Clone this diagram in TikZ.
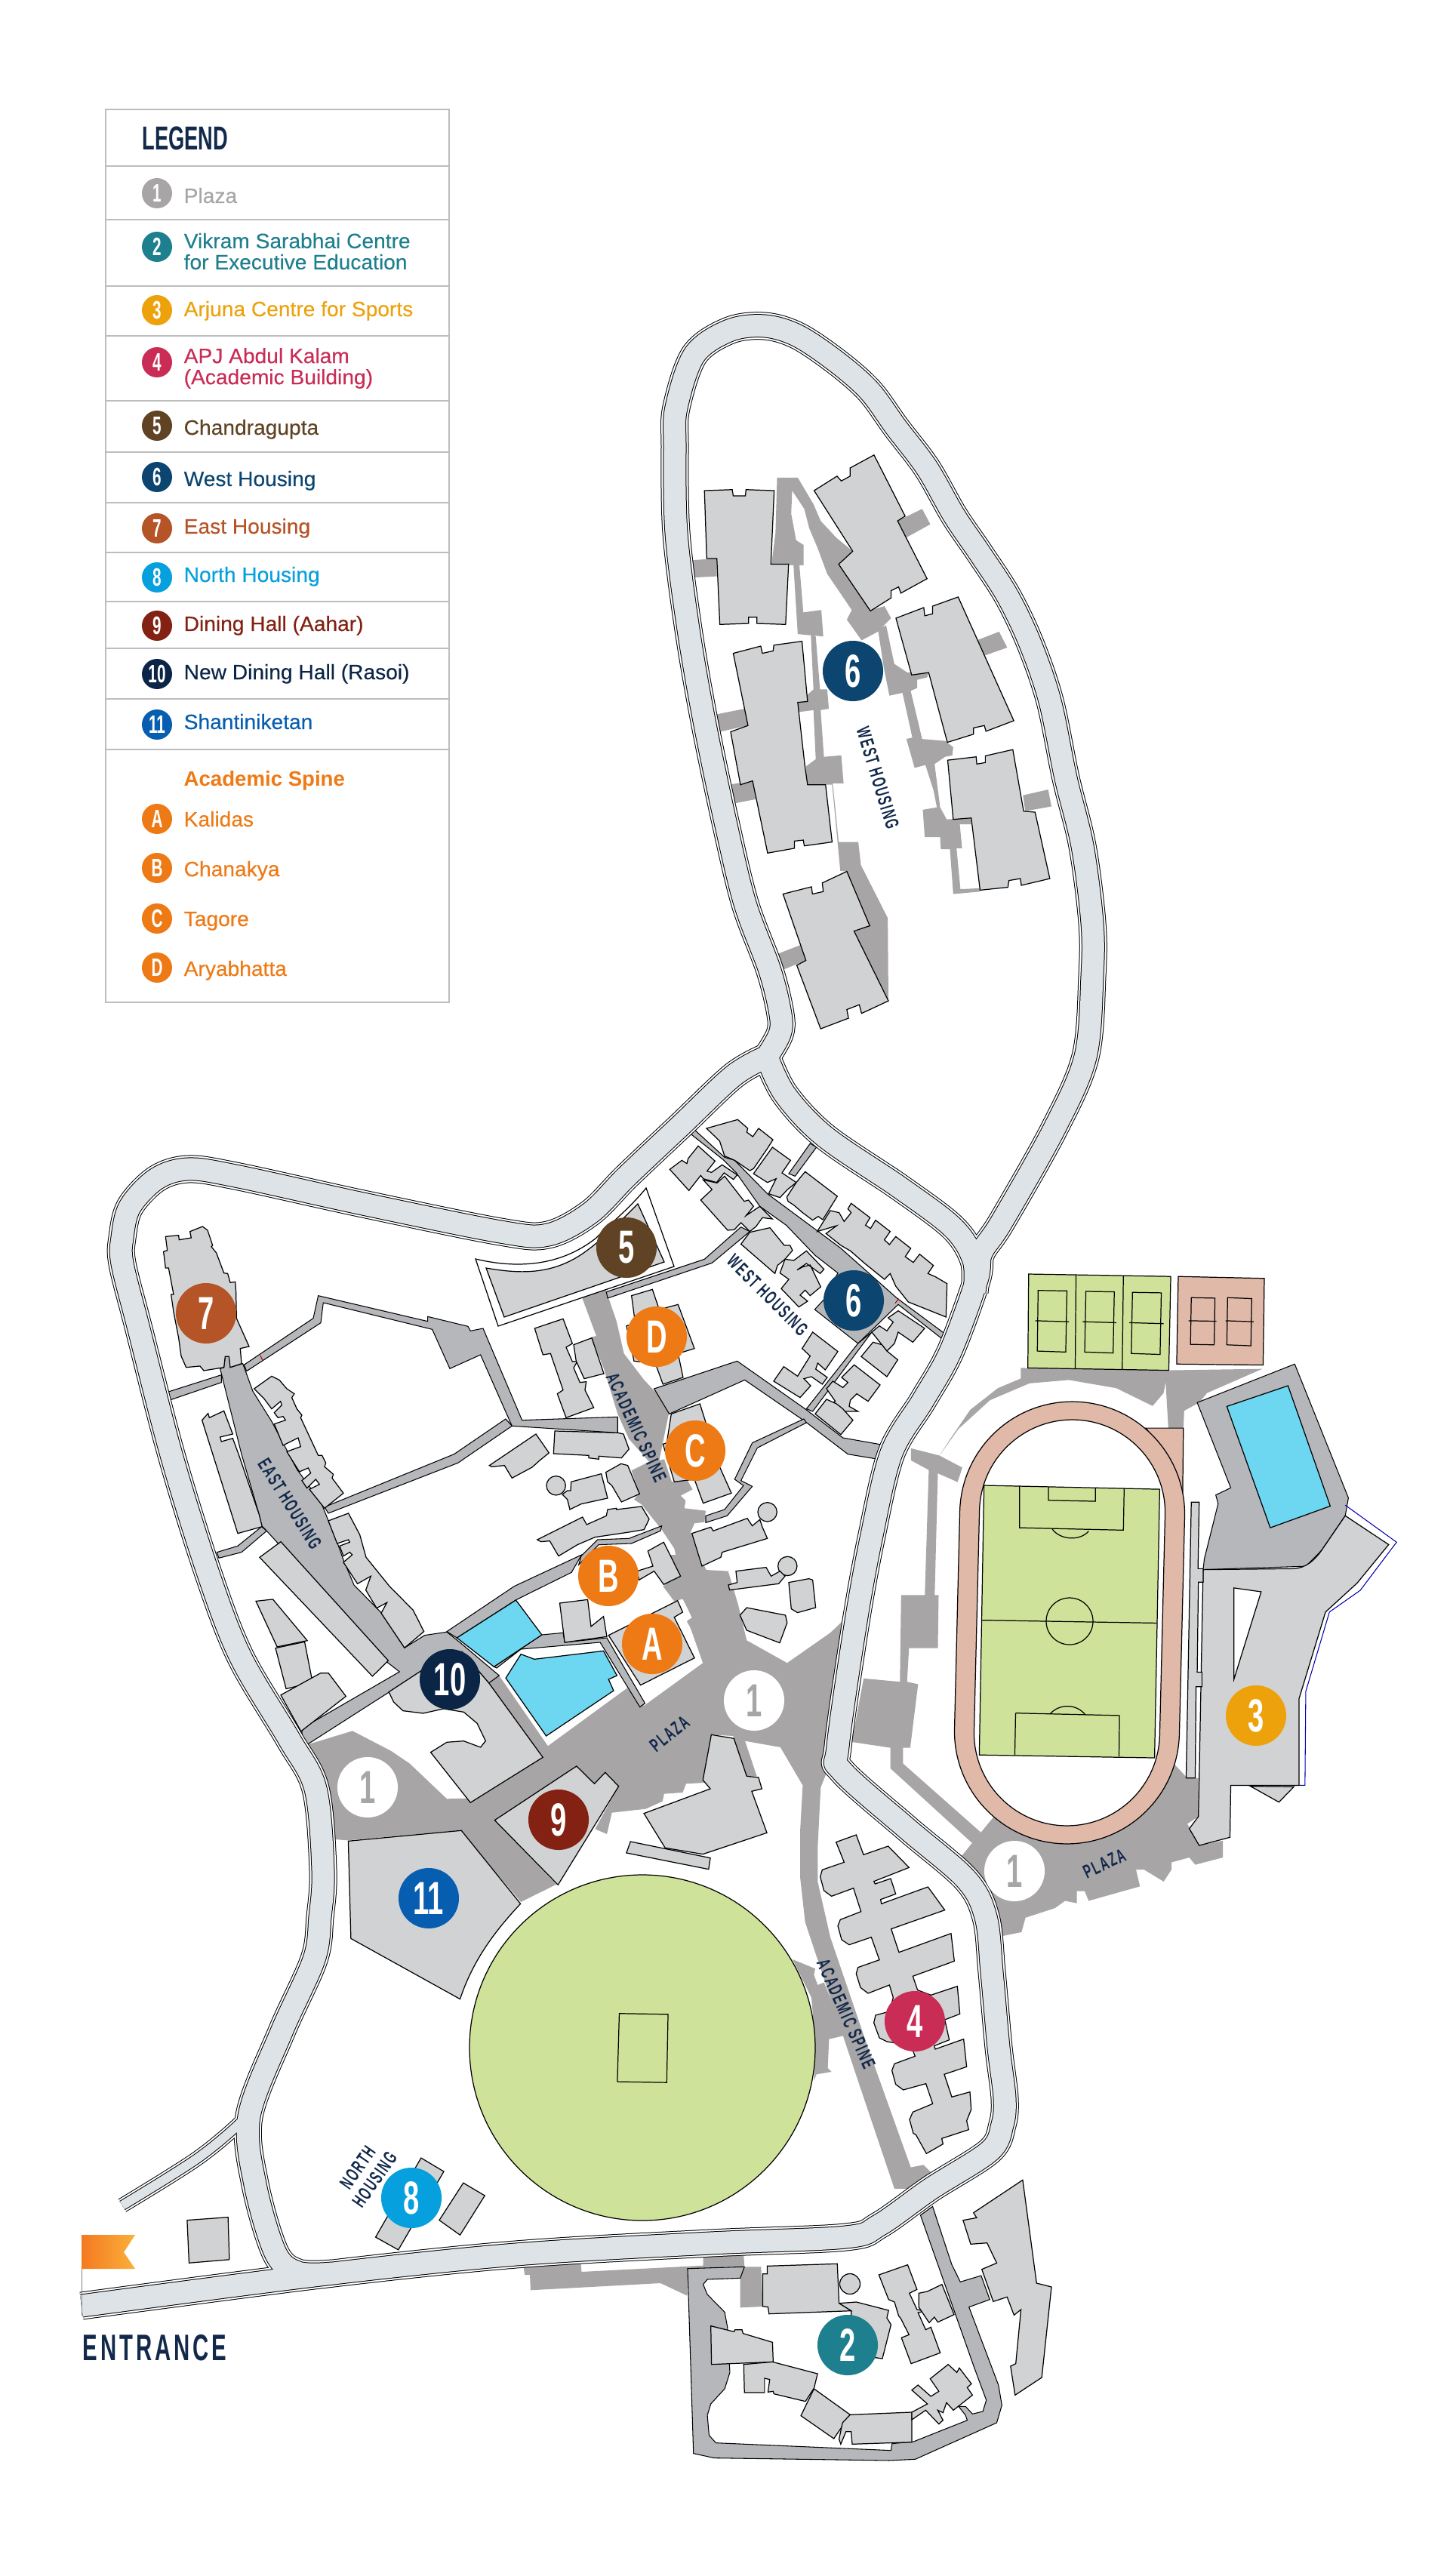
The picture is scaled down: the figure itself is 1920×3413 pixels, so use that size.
\documentclass[tikz,border=0pt]{standalone}
\usepackage{fontspec}
\setmainfont{Liberation Sans}
\newfontfamily\headfont[FakeStretch=0.62]{Liberation Sans}
\newfontfamily\spacedfont[FakeStretch=0.6,LetterSpace=8]{Liberation Sans}
\newfontfamily\keyfont[FakeStretch=1.02,FakeBold=0.25]{Liberation Sans}
\definecolor{bldgc}{HTML}{D1D2D3}
\definecolor{walkc}{HTML}{A7A5A6}
\definecolor{lanec}{HTML}{B6B7BA}
\definecolor{roadc}{HTML}{DDE3E7}
\definecolor{grassc}{HTML}{CFE299}
\definecolor{trackc}{HTML}{E0B9A9}
\definecolor{poolc}{HTML}{6DD6F0}
\definecolor{navyc}{HTML}{13294B}
\definecolor{keyline}{HTML}{BDBDBD}
\definecolor{cplaza}{HTML}{A7A5A6}
\definecolor{ctwo}{HTML}{1E7F8E}
\definecolor{cthree}{HTML}{EDA20C}
\definecolor{cfour}{HTML}{C92C55}
\definecolor{cfive}{HTML}{5F4324}
\definecolor{csix}{HTML}{0B4570}
\definecolor{cseven}{HTML}{B55427}
\definecolor{ceight}{HTML}{05A0DD}
\definecolor{cnine}{HTML}{832112}
\definecolor{cten}{HTML}{0B2547}
\definecolor{celeven}{HTML}{075EB0}
\definecolor{corange}{HTML}{EE7A16}
\definecolor{flagl}{HTML}{F47920}
\definecolor{flagr}{HTML}{FBB03B}
\newcommand{\roadlines}[2]{
	\draw[line width=#1,line join=round] plot[smooth,tension=0.55] coordinates {(1016,1400) (1033,1370) (1034,1344) (1020,1286) (987,1197) (961,1089) (933,955) (912,834) (896,706) (894,591) (896,540) (920,470) (966,438) (1013,432) (1057,445) (1109,480) (1152,518) (1187,566) (1228,620) (1264,683) (1298,733) (1335,790) (1365,853) (1391,929) (1412,1031) (1434,1121) (1447,1223) (1447,1293) (1438,1400) (1397,1495) (1327,1619) (1300,1660) (1294,1696) (1259,1791) (1223,1855) (1181,1925) (1155,2034) (1134,2148) (1110,2314) (1115,2346) (1202,2423) (1280,2490) (1306,2540) (1314,2613) (1323,2713) (1331,2780) (1328,2815) (1311,2850) (1233,2900) (1165,2948) (1120,2964) (941,2972) (683,2987) (424,3014) (108,3055)};
	\draw[line width=#1,line join=round] plot[smooth,tension=0.55] coordinates {(1016,1400) (972,1425) (902,1491) (831,1558) (782,1607) (726,1636) (663,1632) (481,1595) (312,1558) (249,1549) (207,1562) (172,1599) (162,1640) (162,1674) (183,1757) (228,1931) (277,2088) (319,2196) (383,2304) (418,2370) (428,2478) (424,2540) (416,2596) (373,2692) (330,2804) (338,2894) (365,2985) (395,3011) (440,3012)};
	\draw[line width=#1,line join=round] plot[smooth,tension=0.55] coordinates {(1016,1400) (1040,1450) (1093,1506) (1193,1574) (1263,1627) (1290,1670) (1291,1712)};
	\draw[line width=#2,line join=round] plot[smooth,tension=0.55] coordinates {(332,2790) (321,2810) (261,2860) (162,2922)};
}
\tikzset{
	atnorth/.style={shift={(840,400)},xscale=0.4337,yscale=0.6378},
	atmid/.style={shift={(130,1400)},xscale=0.7015,yscale=0.8292},
	atright/.style={shift={(1050,1600)},xscale=0.523,yscale=0.6378},
	atsouth/.style={shift={(80,2400)},xscale=0.861,yscale=0.5612},
	atwest/.style={shift={(860,1450)},scale=0.3333},
	atspine/.style={shift={(620,1640)},scale=0.3333},
	ateast/.style={shift={(130,1600)},scale=0.3333},
	atplaza/.style={shift={(400,2060)},xscale=0.4464,yscale=0.3333},
	atfour/.style={shift={(1050,2380)},scale=0.3333},
	atcentre/.style={shift={(680,2860)},xscale=0.4591,yscale=0.3333},
	bldg/.style={fill=bldgc,draw=black,line width=0.35pt},
	walk/.style={fill=walkc},
	lane/.style={fill=lanec,draw=black,line width=0.3pt},
	court/.style={draw=black,line width=0.35pt},
	spot/.style={circle,minimum size=0.8cm,inner sep=0pt,text=white,font=\bfseries\headfont\fontsize{17.5}{18}\selectfont},
	keyspot/.style={circle,minimum size=0.4cm,inner sep=0pt,text=white,font=\bfseries\headfont\fontsize{9.5}{10}\selectfont},
	keylabel/.style={anchor=base west,inner sep=0pt,font=\keyfont\fontsize{7.85}{8}\selectfont},
	keytwo/.style={anchor=west,inner sep=0pt,align=left,font=\keyfont\fontsize{7.85}{7.97}\selectfont},
	maplabel/.style={inner sep=0pt,text=navyc,font=\bfseries\spacedfont\fontsize{7.2}{7.8}\selectfont},
}
\begin{document}
\begin{tikzpicture}[x=0.01cm,y=-0.01cm]
	\useasboundingbox (0,0) rectangle (1920,3413);
	\fill[white] (0,0) rectangle (1920,3413);

	\begin{scope}[atnorth]
		\fill[walk] (437,365)--(500,365)--(548,420)--(570,455)--(618,490)--(668,518)--(625,545)--(722,640)--(765,632)--(785,657)--(745,685)--(695,703)--(650,660)--(665,640)--(590,565)--(560,510)--(535,470)--(520,430)--(483,392)--(480,440)--(495,495)--(518,505)--(518,547)--(505,547)--(517,645)--(572,640)--(578,695)--(500,690)--(487,547)--(420,545)--(432,480)--cycle;
		\fill[walk] (540,690)--(555,695)--(568,805)--(590,805)--(595,845)--(570,848)--(580,945)--(633,942)--(640,1000)--(607,1000)--(625,1122)--(685,1122)--(693,1170)--(775,1280)--(777,1452)--(672,1307)--(720,1296)--(650,1183)--(630,1182)--(605,1003)--(527,1003)--(525,965)--(555,950)--(548,848)--(503,852)--(503,832)--(548,805)--cycle;
		\fill[walk] (745,680)--(770,672)--(795,752)--(835,770)--(900,770)--(895,780)--(865,785)--(865,802)--(845,808)--(880,908)--(950,912)--(975,925)--(972,942)--(950,945)--(918,960)--(935,1050)--(955,1075)--(1030,1072)--(1030,1085)--(995,1085)--(1002,1135)--(985,1135)--(997,1220)--(1055,1218)--(1057,1225)--(975,1230)--(965,1137)--(937,1137)--(935,1112)--(888,1112)--(882,1055)--(925,1050)--(915,1015)--(890,962)--(857,968)--(832,908)--(850,905)--(820,812)--(780,818)--(763,760)--cycle;
		\fill[walk] (168,537)--(253,533)--(253,570)--(172,573)--cycle;
		\fill[walk] (228,860)--(338,845)--(348,880)--(235,897)--cycle;
		\fill[walk] (270,1005)--(362,995)--(372,1033)--(282,1045)--cycle;
		\fill[walk] (425,1358)--(512,1335)--(525,1368)--(445,1390)--cycle;
		\fill[walk] (805,455)--(880,430)--(905,462)--(830,490)--cycle;
		\fill[walk] (1040,705)--(1115,685)--(1140,718)--(1057,738)--cycle;
		\fill[walk] (1188,1025)--(1265,1013)--(1275,1048)--(1195,1058)--cycle;
		\draw[bldg] (215,392)--(300,390)--(303,403)--(340,403)--(342,390)--(428,392)--(418,545)--(472,545)--(463,670)--(375,668)--(375,655)--(350,655)--(350,668)--(262,670)--(253,533)--(222,533)--cycle;
		\draw[bldg] (550,392)--(620,362)--(633,372)--(660,362)--(660,345)--(733,318)--(828,445)--(805,455)--(895,575)--(815,605)--(808,592)--(785,600)--(785,615)--(722,642)--(625,545)--(668,518)--cycle;
		\draw[bldg] (800,657)--(885,635)--(888,652)--(912,648)--(912,632)--(990,613)--(1160,870)--(1075,892)--(1070,880)--(1037,885)--(1037,898)--(957,915)--(900,770)--(848,775)--cycle;
		\draw[bldg] (303,730)--(387,715)--(392,730)--(425,725)--(427,713)--(513,705)--(530,830)--(500,832)--(522,965)--(530,1003)--(585,1003)--(605,1122)--(520,1130)--(517,1118)--(490,1120)--(490,1135)--(408,1145)--(362,995)--(325,1003)--(295,893)--(348,880)--cycle;
		\draw[bldg] (958,952)--(1045,945)--(1047,960)--(1073,957)--(1073,943)--(1157,930)--(1190,1058)--(1225,1060)--(1270,1198)--(1183,1212)--(1180,1198)--(1145,1202)--(1142,1216)--(1057,1222)--(1030,1072)--(975,1075)--cycle;
		\draw[bldg] (455,1230)--(542,1215)--(545,1230)--(578,1225)--(575,1207)--(650,1183)--(720,1296)--(672,1307)--(777,1452)--(695,1478)--(688,1460)--(650,1470)--(655,1488)--(570,1510)--(497,1378)--(525,1368)--cycle;
	\end{scope}

	\begin{scope}[atspine]
		\fill[walk] (445,215)--(540,185)--(590,330)--(620,460)--(700,565)--(780,650)--(798,700)--(760,885)--(780,880)--(810,970)--(870,960)--(893,1000)--(845,1025)--(865,1045)--(860,1075)--(945,1085)--(940,1130)--(900,1135)--(885,1170)--(950,1330)--(1025,1325)--(1090,1560)--(890,1560)--(870,1525)--(890,1510)--(855,1435)--(820,1445)--(775,1385)--(845,1345)--(820,1235)--(770,1160)--(690,1060)--(660,1040)--(680,1015)--(650,925)--(720,890)--(640,800)--(595,700)--(540,520)--(490,395)--(510,390)--cycle;
	\end{scope}

	\begin{scope}[atplaza]
		\fill[walk] (15,755)--(150,700)--(265,780)--(320,830)--(430,970)--(490,968)--(500,985)--(715,805)--(555,510)--(585,480)--(730,760)--(965,530)--(1015,600)--(1190,430)--(1145,260)--(1160,250)--(1130,175)--(1075,115)--(1125,85)--(1085,0)--(1175,0)--(1200,60)--(1265,65)--(1295,200)--(1320,340)--(1440,430)--(1568,310)--(1635,225)--(1635,700)--(1568,830)--(1535,940)--(1490,925)--(1420,765)--(1315,740)--(1350,880)--(1320,880)--(1280,720)--(1215,715)--(1190,895)--(1210,905)--(1140,910)--(1130,945)--(1075,950)--(1070,980)--(1020,1010)--(920,1025)--(905,1110)--(870,1090)--(940,920)--(900,865)--(868,910)--(815,840)--(572,1055)--(755,1310)--(650,1380)--(470,1095)--(135,1135)--(90,1130)--(75,920)--cycle;
	\end{scope}

	\begin{scope}[atfour]
		\fill[walk] (40,-40)--(112,-40)--(100,200)--(100,340)--(150,560)--(300,1000)--(470,1475)--(520,1465)--(555,1500)--(480,1560)--(405,1560)--(260,1130)--(50,500)--(30,320)--(30,140)--cycle;
		\fill[walk] (0,648)--(90,685)--(85,710)--(100,750)--(125,740)--(210,950)--(145,965)--(140,1080)--(155,1095)--(95,1105)--(85,1130)--(90,980)--(75,800)--cycle;
		\draw[bldg] (173,182)--(253,153)--(282,232)--(380,198)--(463,283)--(323,338)--(328,348)--(390,327)--(410,388)--(350,410)--(353,427)--(538,360)--(605,452)--(392,527)--(423,620)--(630,545)--(643,655)--(478,715)--(497,770)--(550,790)--(655,755)--(665,865)--(605,888)--(623,968)--(563,992)--(567,1005)--(680,965)--(692,1075)--(603,1105)--(633,1195)--(705,1175)--(710,1245)--(692,1290)--(700,1325)--(593,1360)--(598,1382)--(532,1420)--(490,1345)--(480,1340)--(465,1285)--(478,1255)--(557,1222)--(530,1142)--(440,1167)--(410,1145)--(395,1090)--(405,1063)--(487,1033)--(470,990)--(375,975)--(345,960)--(323,900)--(330,870)--(385,855)--(400,800)--(385,750)--(300,783)--(270,760)--(253,705)--(260,680)--(345,650)--(313,560)--(225,590)--(195,570)--(180,515)--(190,490)--(272,458)--(242,365)--(155,397)--(125,375)--(110,320)--(118,292)--(205,262)--cycle;
	\end{scope}

	\begin{scope}[atright]
		\fill[walk] (578,333)--(948,338)--(1190,335)--(1050,385)--(1030,405)--(992,422)--(990,460)--(952,460)--(945,362)--(940,385)--(912,412)--(820,375)--(700,358)--(600,365)--(500,400)--(420,460)--(372,515)--(430,540)--(418,570)--(368,552)--(360,805)--(370,805)--(368,915)--(295,915)--(290,985)--(318,990)--(298,1122)--(280,1122)--(280,1155)--(480,1300)--(455,1320)--(248,1165)--(248,1122)--(150,1110)--(180,978)--(272,985)--(275,805)--(335,805)--(345,545)--(300,525)--(300,500)--(372,515)--(400,480)--(450,420)--(520,375)--(578,355)--cycle;
		\fill[walk] (425,1350)--(510,1265)--(700,1290)--(960,1150)--(1000,1185)--(1028,1185)--(1028,1265)--(1000,1280)--(1030,1325)--(1090,1315)--(1090,1350)--(1020,1365)--(1005,1350)--(960,1360)--(960,1375)--(940,1400)--(890,1375)--(870,1375)--(880,1410)--(750,1440)--(740,1420)--(720,1420)--(720,1445)--(690,1440)--(665,1455)--(590,1475)--(580,1505)--(520,1515)--(500,1450)--cycle;
		\fill[trackc,draw=black,line width=0.35pt] (895,458)--(990,458)--(988,610)--(960,530)--cycle;
	\end{scope}

	\begin{scope}[shift={(1417,2150)},rotate=-1.4]
		\filldraw[fill=trackc,draw=black,line width=0.35pt,rounded corners=1.49cm] (-149,-293) rectangle (149,293);
		\filldraw[fill=white,draw=black,line width=0.35pt,rounded corners=1.23cm] (-123,-269) rectangle (123,269);
	\end{scope}

	\begin{scope}[atright]
		\fill[grassc,draw=black,line width=0.35pt] (485,577)--(930,585)--(917,1143)--(473,1137)--cycle;
		\draw[court] (575,578)--(575,665)--(838,670)--(840,583);
		\draw[court] (648,580)--(648,608)--(767,610)--(767,583);
		\draw[court] (658,668) .. controls (680,692) and (730,692) .. (750,672);
		\draw[court] (480,857)--(922,863);
		\draw[court] (565,1050)--(828,1055)--(827,1140);
		\draw[court] (565,1050)--(563,1137);
		\draw[court] (652,1052) .. controls (675,1030) and (720,1030) .. (742,1054);
		\fill[grassc,draw=black,line width=0.35pt] (598,138)--(958,143)--(953,338)--(596,333)--cycle;
		\draw[court] (718,140)--(716,335);
		\draw[court] (838,141)--(835,337);
		\draw[court] (622,172)--(695,173)--(692,300)--(620,298)--cycle;
		\draw[court] (615,235)--(700,237);
		\draw[court] (743,174)--(815,175)--(812,302)--(740,300)--cycle;
		\draw[court] (735,237)--(820,239);
		\draw[court] (861,176)--(934,177)--(931,305)--(858,303)--cycle;
		\draw[court] (853,239)--(940,241);
		\fill[trackc,draw=black,line width=0.35pt] (977,143)--(1195,147)--(1192,327)--(973,325)--cycle;
		\draw[court] (1010,187)--(1070,188)--(1068,285)--(1008,284)--cycle;
		\draw[court] (1003,235)--(1074,236);
		\draw[court] (1102,187)--(1163,189)--(1161,287)--(1100,285)--cycle;
		\draw[court] (1097,235)--(1168,237);
		\draw[lane] (1025,405)--(1272,325)--(1408,603)--(1400,640)--(1340,712)--(1300,745)--(1040,752)--(1043,730)--(1078,615)--(1072,597)--(1110,582)--cycle;
		\fill[poolc,draw=black,line width=0.35pt] (1100,413)--(1255,370)--(1362,620)--(1210,665)--cycle;
		\draw[blue!70!black,line width=0.3pt] (1400,618)--(1530,695)--(1438,795)--(1360,840)--(1300,1005)--(1298,1200)--(1270,1200);
		\draw[bldg] (1160,1202)--(1232,1235)--(1270,1203)--cycle;
		\draw[bldg] (1040,752)--(1270,750) .. controls (1300,748) and (1320,735) .. (1340,712)--(1400,640)--(1510,700)--(1430,780)--(1350,840)--(1283,1020)--(1283,1200)--(1110,1200)--(1108,1308)--(1030,1325)--(1005,1290)--(1028,1265)--(1030,1185)--cycle;
		\fill[white,draw=black,line width=0.35pt] (1118,790)--(1187,798)--(1118,980)--cycle;
		\draw[bldg] (1010,612)--(1030,612)--(1027,750)--(1040,750)--(1040,778)--(1028,778)--(1025,965)--(1037,965)--(1037,995)--(1022,995)--(1020,1185)--(997,1185)--cycle;
	\end{scope}
	\draw[court] (1417,2148) circle (31);

	\begin{scope}[atplaza]
		\draw[lane] (430,305)--(630,125)--(830,0)--(800,70)--(637,178)--(460,330)--cycle;
		\draw[lane] (712,318)--(775,310)--(780,348)--(905,330)--(1018,590)--(1003,605)--(885,348)--(650,375)--(578,450)--(570,445)--cycle;
		\fill[poolc,draw=black,line width=0.35pt] (460,330)--(635,180)--(712,318)--(570,445)--cycle;
		\fill[poolc,draw=black,line width=0.35pt] (605,490)--(650,395)--(690,415)--(895,382)--(935,480)--(910,495)--(925,540)--(725,720)--cycle;
		\draw[bldg] (765,192)--(848,178)--(858,285)--(895,245)--(905,325)--(780,348)--cycle;
		\draw[bldg] (910,320)--(1115,182)--(1130,228)--(1105,248)--(1165,410)--(1005,518)--cycle;
		\draw[bldg] (572,1055)--(815,840)--(868,910)--(900,865)--(940,920)--(760,1312)--cycle;
		\draw[bldg] (1015,1028)--(1212,930)--(1190,895)--(1215,715)--(1282,730)--(1320,880)--(1355,885)--(1365,930)--(1335,940)--(1380,1105)--(1190,1190)--(1078,1165)--cycle;
		\draw[bldg] (975,1140)--(1212,1205)--(1207,1250)--(963,1185)--cycle;
		\draw[bldg] (1300,240)--(1320,210)--(1435,240)--(1440,270)--(1418,350)--(1320,300)--cycle;
	\end{scope}

	\begin{scope}[atspine]
		\draw[lane] (550,215)--(940,85)--(1085,-43)--(1120,-25)--(970,100)--(555,240)--cycle;
		\draw[lane] (740,600)--(1070,490)--(1340,680)--(1490,795)--(1660,825)--(1660,885)--(1510,860)--(1340,730)--(1100,565)--(800,700)--cycle;
		\draw[lane] (945,1105)--(1020,1080)--(1095,985)--(1060,960)--(1130,815)--(1335,720)--(1345,735)--(1150,835)--(1085,965)--(1130,988)--(1030,1105)--(945,1132)--cycle;
		\draw[lane] (450,1265)--(515,1200)--(640,1195)--(770,1145)--(765,1165)--(650,1215)--(520,1220)--(470,1270)--(440,1300)--cycle;
		\draw[bldg] (650,230)--(733,205)--(760,285)--(835,265)--(900,440)--(835,460)--(855,555)--(775,582)--(745,500)--(660,490)--(630,350)--(665,340)--cycle;
		\draw[bldg] (265,360)--(378,322)--(415,420)--(390,435)--(415,492)--(435,490)--(420,517)--(445,575)--(470,572)--(465,605)--(500,675)--(390,715)--(355,620)--(378,605)--(328,460)--(298,465)--cycle;
		\draw[bldg] (420,425)--(492,398)--(540,540)--(462,560)--(430,490)--cycle;
		\draw[bldg] (345,768)--(595,775)--(618,780)--(640,840)--(610,875)--(520,868)--(520,880)--(480,875)--(480,865)--(340,858)--cycle;
		\draw[bldg] (85,905)--(270,780)--(322,855)--(285,885)--(255,912)--(175,955)--(145,905)--(95,910)--cycle;
		\draw[bldg] (350,985) circle (38);
		\draw[bldg] (410,970)--(530,938)--(555,1035)--(450,1058)--(405,1080)--(395,1040)--(375,1020)--(395,1005)--(408,1005)--cycle;
		\draw[bldg] (548,932)--(608,898)--(635,905)--(682,1018)--(610,1050)--(572,985)--(555,970)--cycle;
		\draw[bldg] (275,1200)--(455,1110)--(472,1140)--(550,1105)--(555,1080)--(590,1075)--(590,1080)--(690,1068)--(720,1118)--(700,1160)--(640,1170)--(505,1190)--(435,1220)--(360,1265)--(325,1205)--(290,1208)--cycle;
		\draw[bldg] (1190,1090) circle (38);
		\draw[bldg] (890,1175)--(965,1150)--(975,1165)--(1110,1115)--(1130,1145)--(1160,1120)--(1170,1150)--(1190,1195)--(1010,1250)--(1005,1270)--(930,1305)--cycle;
		\draw[bldg] (808,700)--(922,660)--(1000,910)--(1047,1015)--(935,1055)--(900,960)--(820,970)--(775,820)--(790,815)--cycle;
		\draw[bldg] (1270,1305) circle (38);
		\draw[bldg] (1065,1325)--(1185,1310)--(1205,1345)--(1240,1325)--(1260,1345)--(1235,1375)--(1040,1400)--(1035,1380)--(1070,1370)--cycle;
		\draw[bldg] (1275,1370)--(1355,1355)--(1370,1360)--(1382,1470)--(1310,1490)--(1285,1475)--cycle;
		\draw[bldg] (715,1245)--(778,1210)--(845,1345)--(778,1378)--(740,1325)--(680,1360)--(672,1325)--(735,1305)--cycle;
	\end{scope}

	\begin{scope}[atwest]
		\draw[lane] (137,135)--(160,122)--(300,250)--(340,262)--(470,395)--(760,610)--(985,810)--(1198,968)--(1188,990)--(990,835)--(830,990)--(658,855)--(695,815)--(750,710)--(660,640)--(545,520)--(440,445)--(345,310)--(295,260)--cycle;
		\draw[lane] (830,990)--(885,945)--(650,1260)--(625,1250)--cycle;
		\draw[lane] (640,195)--(665,210)--(580,325)--(555,315)--cycle;
		\draw[bldg] (228,135)--(352,100)--(392,135)--(388,150)--(412,168)--(435,135)--(492,180)--(470,215)--(415,295)--(400,303)--(340,262)--(300,245)--(280,185)--cycle;
		\draw[bldg] (490,210)--(562,262)--(528,312)--(585,350)--(550,378)--(520,410)--(475,395)--(505,335)--(470,350)--(415,315)--cycle;
		\draw[bldg] (620,307)--(748,405)--(690,498)--(672,485)--(650,500)--(610,470)--(575,440)--(552,425)--(547,408)--(585,350)--cycle;
		\draw[bldg] (803,433)--(878,490)--(860,520)--(880,533)--(900,500)--(958,545)--(935,578)--(955,597)--(980,565)--(1040,612)--(1018,645)--(1050,668)--(1075,635)--(1130,680)--(1108,712)--(1138,725)--(1184,752)--(1180,885)--(1105,855)--(1030,825)--(980,762)--(958,712)--(935,735)--(855,670)--(800,622)--(762,600)--(703,553)--(745,522)--(668,545)--(720,462)--(755,470)--(775,505)--(803,470)--(790,455)--cycle;
		\draw[bldg] (82,298)--(130,262)--(150,275)--(155,255)--(195,205)--(262,265)--(230,305)--(248,310)--(290,280)--(350,320)--(335,338)--(298,312)--(268,350)--(215,335)--(205,322)--(158,382)--cycle;
		\draw[bldg] (205,420)--(250,378)--(215,340)--(270,352)--(300,325)--(378,425)--(395,420)--(415,445)--(385,482)--(440,445)--(490,495)--(450,490)--(425,525)--(400,545)--(365,510)--(338,538)--(312,540)--cycle;
		\draw[bldg] (365,595)--(400,548)--(480,530)--(537,600)--(560,600)--(570,620)--(540,655)--(510,680)--(500,712)--cycle;
		\draw[bldg] (520,710)--(540,655)--(575,660)--(625,622)--(695,695)--(680,712)--(625,672)--(588,698)--(612,685)--(640,678)--(682,765)--(640,800)--(620,778)--(600,798)--(630,822)--(595,845)--(525,772)--(555,735)--cycle;
		\draw[bldg] (650,945)--(750,1022)--(700,1095)--(670,1068)--(662,1092)--(708,1125)--(688,1152)--(645,1122)--(615,1130)--(642,1158)--(600,1205)--(495,1140)--(535,1082)--(590,1120)--(640,1040)--(608,1010)--cycle;
		\draw[bldg] (990,860)--(1095,930)--(1048,985)--(990,945)--(975,990)--(945,1020)--(925,995)--(885,945)--(915,920)--(945,940)--(970,905)--(950,888)--cycle;
		\draw[bldg] (890,985)--(925,995)--(945,1020)--(988,1055)--(945,1122)--(843,1042)--cycle;
		\draw[bldg] (815,1075)--(918,1155)--(870,1220)--(825,1190)--(800,1215)--(795,1240)--(830,1260)--(700,1260)--(705,1240)--(740,1220)--(705,1170)--(730,1140)--(770,1165)--(790,1145)--(765,1125)--cycle;
		\draw[red!70!black,line width=0.3pt] (978,830)--(992,812);
	\end{scope}

	\begin{scope}[atspine]
		\draw[bldg] (1380,700)--(1425,642)--(1465,660)--(1490,680)--(1530,725)--(1482,782)--cycle;
	\end{scope}

	\begin{scope}[ateast]
		\draw[lane] (580,625)--(855,440)--(875,350)--(1310,452)--(1310,433)--(1470,472)--(1480,490)--(1530,480)--(1685,845)--(2065,832)--(2065,895)--(1645,868)--(1520,585)--(1398,640)--(1328,484)--(895,378)--(885,458)--(590,650)--cycle;
		\draw[lane] (900,1190)--(1415,980)--(1620,840)--(1645,868)--(1430,1015)--(915,1215)--cycle;
		\draw[lane] (270,735)--(490,665)--(490,695)--(285,765)--cycle;
		\draw[lane] (472,1370)--(555,1345)--(650,1268)--(670,1285)--(570,1370)--(480,1393)--cycle;
		\draw[lane] (485,640)--(500,635)--(505,592)--(522,592)--(525,635)--(575,620)--(615,730)--(690,850)--(790,1040)--(885,1170)--(950,1330)--(975,1400)--(1017,1500)--(1125,1610)--(1218,1750)--(1298,1700)--(1386,1687)--(1440,1730)--(1594,1860)--(1553,1890)--(1446,1765)--(1286,1845)--(1158,1925)--(830,2135)--(810,2120)--(810,2070)--(1198,1845)--(1140,1800)--(670,1285)--(650,1265)--(640,1220)--(570,980)--(530,820)--cycle;
		\draw[bldg] (268,115)--(320,110)--(322,128)--(370,120)--(365,95)--(415,75)--(435,90)--(455,150)--(450,155)--(470,180)--(500,260)--(515,262)--(525,298)--(545,295)--(548,335)--(550,440)--(600,552)--(565,560)--(570,620)--(525,635)--(520,592)--(505,592)--(500,635)--(420,648)--(405,630)--(350,635)--(330,590)--(320,518)--(300,415)--(290,345)--(300,345)--(280,240)--(268,240)--(260,175)--(275,170)--cycle;
		\draw[bldg] (413,845)--(437,818)--(442,835)--(500,808)--(535,900)--(485,912)--(490,930)--(535,917)--(560,985)--(640,1220)--(652,1268)--(555,1295)--cycle;
		\draw[bldg] (620,720)--(690,670)--(720,685)--(750,720)--(780,740)--(770,755)--(790,800)--(810,825)--(805,835)--(875,985)--(890,985)--(905,1015)--(900,1030)--(935,1060)--(930,1075)--(975,1135)--(900,1195)--(880,1170)--(840,1120)--(880,1100)--(865,1080)--(830,1115)--(810,1085)--(845,1055)--(835,1035)--(800,1050)--(750,970)--(805,950)--(795,915)--(735,945)--(700,860)--(745,845)--(735,830)--(715,835)--(700,815)--(730,785)--(725,770)--(690,800)--(660,760)--cycle;
		\draw[bldg] (915,1245)--(995,1215)--(1040,1300)--(1065,1390)--(1158,1505)--(1252,1600)--(1295,1685)--(1218,1750)--(1125,1612)--(1148,1570)--(1107,1592)--(1064,1520)--(1084,1465)--(1031,1495)--(975,1410)--(1010,1380)--(1000,1370)--(975,1385)--(960,1345)--(1000,1330)--(995,1320)--(950,1335)--cycle;
		\draw[red!70!black,line width=0.3pt] (645,588)--(655,610);
	\end{scope}

	\begin{scope}[atplaza]
		\draw[bldg] (258,545)--(355,460)--(475,385)--(555,510)--(715,805)--(500,985)--(382,785)--(430,745)--(480,740)--(530,765)--(545,740)--(520,670)--(480,625)--(420,612)--(360,630)--(300,620)--(272,585)--cycle;
	\end{scope}

	\begin{scope}[atmid]
		\draw[bldg] (305,800)--(345,775)--(548,965)--(518,990)--cycle;
		\draw[bldg] (298,870)--(330,867)--(395,933)--(338,943)--cycle;
		\draw[bldg] (335,945)--(390,935)--(405,1000)--(355,1010)--cycle;
		\draw[bldg] (345,1020)--(420,985)--(435,985)--(468,1022)--(383,1078)--cycle;
	\end{scope}

	\filldraw[fill=white,draw=black,line width=0.35pt] (630,1668) .. controls (680,1680) and (740,1680) .. (790,1640) .. controls (810,1620) and (835,1600) .. (856,1574)--(893,1678)--(660,1757)--cycle;
	\draw[bldg] (644,1680)--(668,1745)--(880,1672)--(845,1595) .. controls (815,1625) and (800,1640) .. (780,1655) .. controls (735,1690) and (690,1688) .. cycle;

	\filldraw[fill=grassc,draw=black,line width=0.35pt] (851,2713) circle (229);
	\begin{scope}[atsouth]
		\draw[court] (860,477)--(935,479)--(933,640)--(857,638)--cycle;
		\draw[bldg] (443,70)--(617,45)--(708,218) .. controls (670,280) and (635,350) .. (615,443)--(447,300)--cycle;
		\draw[bldg] (555,818)--(590,850)--(520,1035)--(485,1005)--cycle;
		\draw[bldg] (620,877)--(653,907)--(615,1000)--(583,965)--cycle;
		\draw[bldg] (195,965)--(258,958)--(260,1058)--(198,1066)--cycle;
	\end{scope}

	\begin{scope}[atcentre]
		\fill[walk] (30,432)--(195,418)--(197,450)--(548,425)--(548,390)--(665,385)--(667,428)--(503,437)--(502,545)--(425,495)--(50,523)--(48,462)--(33,462)--cycle;
		\fill[walk] (655,475)--(665,430)--(715,430)--(720,588)--(655,592)--cycle;
		\draw[lane] (503,437)--(667,430)--(655,475)--(560,480)--(548,500)--(560,540)--(610,610)--(618,670)--(625,850)--(610,915)--(570,975)--(560,1020)--(565,1100)--(585,1130)--(1090,1160)--(1093,1133)--(1155,1125)--(1310,1040)--(1305,1020)--(1285,985)--(1305,985)--(1325,1015)--(1355,1005)--(1365,960)--(1330,830)--(1175,225)--(1210,190)--(1265,420)--(1290,490)--(1350,465)--(1375,560)--(1315,590)--(1400,900)--(1410,980)--(1395,1050)--(1160,1195)--(1085,1200)--(580,1190)--(520,1172)--cycle;
		\draw[bldg] (940,575)--(990,570)--(1083,603)--(1078,633)--(1090,660)--(1065,795)--(1040,790)--(975,620)--(975,605)--cycle;
		\draw[bldg] (720,458)--(733,458)--(733,427)--(935,418)--(940,575)--(975,605)--(738,617)--(735,590)--(720,587)--cycle;
		\draw[bldg] (1055,462)--(1138,422)--(1165,520)--(1143,535)--(1165,600)--(1190,605)--(1168,612)--(1190,680)--(1205,670)--(1232,772)--(1148,815)--(1120,712)--(1142,700)--(1118,635)--(1112,625)--(1100,570)--(1083,560)--cycle;
		\draw[bldg] (1170,535)--(1195,528)--(1237,500)--(1272,620)--(1225,650)--(1215,630)--(1200,652)--(1170,590)--cycle;
		\draw[bldg] (1470,85)--(1510,495)--(1553,510)--(1525,870)--(1448,940)--(1435,825)--(1450,815)--(1465,600)--(1445,622)--(1425,550)--(1385,568)--(1352,440)--(1395,415)--(1367,335)--(1320,340)--(1298,245)--(1337,235)--(1328,215)--cycle;
		\draw[bldg] (570,665)--(637,688)--(640,680)--(660,680)--(663,695)--(748,730)--(750,808)--(572,818)--cycle;
		\draw[bldg] (665,818)--(748,808)--(878,855)--(868,912)--(843,965)--(752,935)--(750,925)--(735,928)--(740,878)--(725,873)--(725,930)--(667,930)--cycle;
		\draw[bldg] (868,915)--(972,1018)--(925,1113)--(830,1022)--(850,965)--cycle;
		\draw[bldg] (972,1018)--(1150,1008)--(1150,1127)--(978,1135)--(975,1085)--(960,1085)--(945,1135)--(940,1115)--(950,1050)--cycle;
		\draw[bldg] (1150,1008)--(1195,975)--(1150,920)--(1168,900)--(1205,945)--(1228,925)--(1203,875)--(1255,818)--(1280,850)--(1287,832)--(1322,895)--(1310,910)--(1325,940)--(1270,1000)--(1250,970)--(1240,1010)--(1225,1000)--(1240,1040)--(1228,1055)--(1190,1000)--(1150,1038)--cycle;
	\end{scope}
	\draw[bldg] (1126,3026) circle (13.5);

	\roadlines{0.37cm}{0.2cm}
	\begin{scope}[white]
		\roadlines{0.35cm}{0.18cm}
	\end{scope}
	\roadlines{0.31cm}{0.14cm}
	\begin{scope}[roadc]
		\roadlines{0.29cm}{0.12cm}
	\end{scope}

	\shade[left color=flagl,right color=flagr] (108,2961)--(179,2961)--(164,2984)--(179,3006)--(108,3006)--cycle;
	\draw[black!50,line width=0.25pt] (108,3006)--(108,3068);
	\node[inner sep=0pt,text=navyc,font=\bfseries\spacedfont\fontsize{13.9}{14}\selectfont] (entrance) at (205,3111) {ENTRANCE};

	\node[spot,fill=white,text=cplaza] (plazaa) at (487,2368) {1};
	\node[spot,fill=white,text=cplaza] (plazab) at (999,2253) {1};
	\node[spot,fill=white,text=cplaza] (plazac) at (1344,2479) {1};
	\node[spot,fill=ctwo] (sarabhai) at (1123,3107) {2};
	\node[spot,fill=cthree] (arjuna) at (1664,2273) {3};
	\node[spot,fill=cfour] (kalam) at (1212,2678) {4};
	\node[spot,fill=cfive] (chandragupta) at (830,1653) {5};
	\node[spot,fill=csix] (westa) at (1130,889) {6};
	\node[spot,fill=csix] (westb) at (1131,1723) {6};
	\node[spot,fill=cseven] (east) at (273,1740) {7};
	\node[spot,fill=ceight] (north) at (545,2912) {8};
	\node[spot,fill=cnine] (aahar) at (740,2411) {9};
	\node[spot,fill=cten] (rasoi) at (596,2225) {10};
	\node[spot,fill=celeven] (shanti) at (568,2515) {11};
	\node[spot,fill=corange] (kalidas) at (864,2178) {A};
	\node[spot,fill=corange] (chanakya) at (806,2088) {B};
	\node[spot,fill=corange] (tagore) at (921,1922) {C};
	\node[spot,fill=corange] (aryabhatta) at (870,1771) {D};

	\node[maplabel,rotate=-73] (labelwesta) at (1163,1031) {WEST HOUSING};
	\node[maplabel,rotate=-45] (labelwestb) at (1017,1716) {WEST HOUSING};
	\node[maplabel,rotate=-65] (labelspinea) at (843,1891) {ACADEMIC SPINE};
	\node[maplabel,rotate=-66] (labelspineb) at (1121,2668) {ACADEMIC SPINE};
	\node[maplabel,rotate=-58] (labeleast) at (384,1992) {EAST HOUSING};
	\node[maplabel,rotate=39] (labelplazaa) at (887,2297) {PLAZA};
	\node[maplabel,rotate=25] (labelplazab) at (1463,2469) {PLAZA};
	\node[maplabel,rotate=55,align=center] (labelnorth) at (485,2880) {NORTH\\HOUSING};

	\draw[keyline,line width=0.35pt] (140,145) rectangle (595,1328);
	\draw[keyline,line width=0.35pt] (140,220)--(595,220);
	\draw[keyline,line width=0.35pt] (140,291)--(595,291);
	\draw[keyline,line width=0.35pt] (140,379)--(595,379);
	\draw[keyline,line width=0.35pt] (140,445)--(595,445);
	\draw[keyline,line width=0.35pt] (140,531)--(595,531);
	\draw[keyline,line width=0.35pt] (140,599)--(595,599);
	\draw[keyline,line width=0.35pt] (140,666)--(595,666);
	\draw[keyline,line width=0.35pt] (140,732)--(595,732);
	\draw[keyline,line width=0.35pt] (140,797)--(595,797);
	\draw[keyline,line width=0.35pt] (140,859)--(595,859);
	\draw[keyline,line width=0.35pt] (140,926)--(595,926);
	\draw[keyline,line width=0.35pt] (140,993)--(595,993);
	\node[inner sep=0pt,anchor=west,text=navyc,font=\bfseries\headfont\fontsize{12.5}{13}\selectfont] (legend) at (188,183) {LEGEND};

	\node[keyspot,fill=cplaza] (keya) at (208,256) {1};
	\node[keyspot,fill=ctwo] (keyb) at (208,327) {2};
	\node[keyspot,fill=cthree] (keyc) at (208,411) {3};
	\node[keyspot,fill=cfour] (keyd) at (208,480) {4};
	\node[keyspot,fill=cfive] (keye) at (208,564) {5};
	\node[keyspot,fill=csix] (keyf) at (208,632) {6};
	\node[keyspot,fill=cseven] (keyg) at (208,700) {7};
	\node[keyspot,fill=ceight] (keyh) at (208,765) {8};
	\node[keyspot,fill=cnine] (keyi) at (208,829) {9};
	\node[keyspot,fill=cten] (keyj) at (208,893) {10};
	\node[keyspot,fill=celeven] (keyk) at (208,960) {11};
	\node[keyspot,fill=corange] (keyl) at (208,1085) {A};
	\node[keyspot,fill=corange] (keym) at (208,1150) {B};
	\node[keyspot,fill=corange] (keyn) at (208,1217) {C};
	\node[keyspot,fill=corange] (keyo) at (208,1282) {D};

	\node[keylabel,text=cplaza] (texta) at (243,269) {Plaza};
	\node[keytwo,text=ctwo] (textb) at (243,333) {Vikram Sarabhai Centre\\for Executive Education};
	\node[keylabel,text=cthree] (textc) at (243,419) {Arjuna Centre for Sports};
	\node[keytwo,text=cfour] (textd) at (243,488) {APJ Abdul Kalam\\(Academic Building)};
	\node[keylabel,text=cfive] (texte) at (243,576) {Chandragupta};
	\node[keylabel,text=csix] (textf) at (243,644) {West Housing};
	\node[keylabel,text=cseven] (textg) at (243,707) {East Housing};
	\node[keylabel,text=ceight] (texth) at (243,771) {North Housing};
	\node[keylabel,text=cnine] (texti) at (243,836) {Dining Hall (Aahar)};
	\node[keylabel,text=cten] (textj) at (243,900) {New Dining Hall (Rasoi)};
	\node[keylabel,text=celeven] (textk) at (243,966) {Shantiniketan};
	\node[keylabel,text=corange,font=\bfseries\fontsize{7.85}{8}\selectfont] (textspine) at (243,1041) {Academic Spine};
	\node[keylabel,text=corange] (textl) at (243,1095) {Kalidas};
	\node[keylabel,text=corange] (textm) at (243,1161) {Chanakya};
	\node[keylabel,text=corange] (textn) at (243,1227) {Tagore};
	\node[keylabel,text=corange] (texto) at (243,1293) {Aryabhatta};
\end{tikzpicture}
\end{document}
